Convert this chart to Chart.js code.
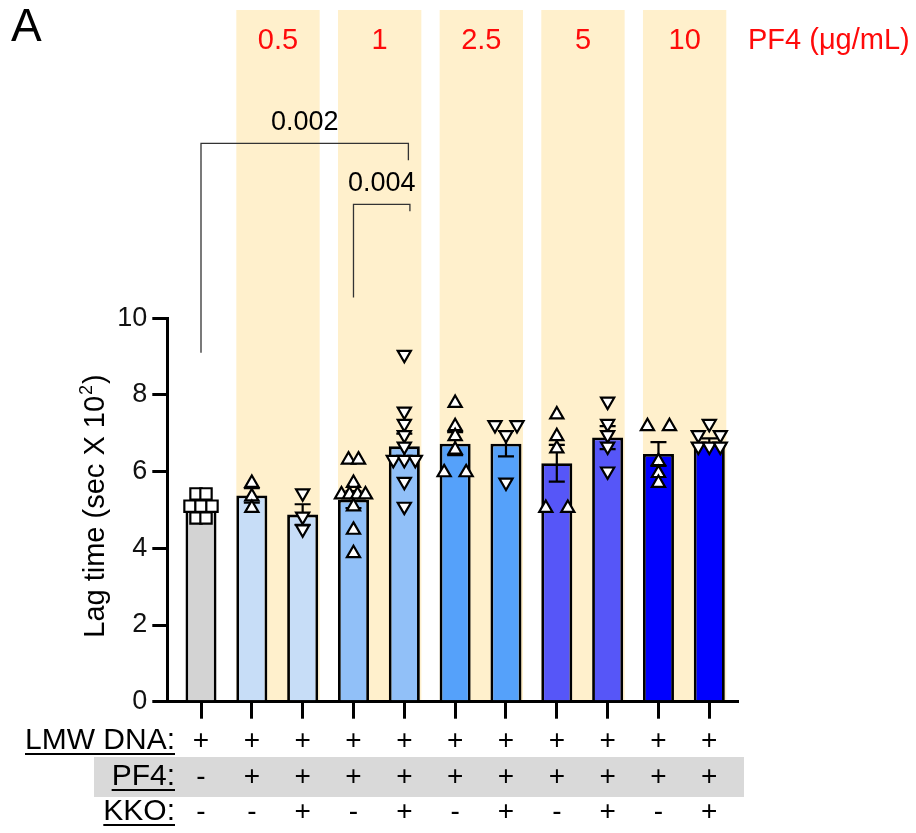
<!DOCTYPE html>
<html><head><meta charset="utf-8">
<script src="https://cdn.jsdelivr.net/npm/chart.js@4"></script>
<style>html,body{margin:0;padding:0;background:#fff;}#wrap{width:916px;height:833px;}</style>
</head><body><div id="wrap"><canvas id="c" width="916" height="833"></canvas></div>
<script>
// ---------------- DATA ----------------
const groupIndex = [0,1,2,3,4,5,6,7,8,9,10];
const rowLMW = ['+','+','+','+','+','+','+','+','+','+','+'];
const rowPF4 = ['-','+','+','+','+','+','+','+','+','+','+'];
const rowKKO = ['-','-','+','-','+','-','+','-','+','-','+'];
const rowLabels = ['LMW DNA:','PF4:','KKO:'];
const pf4Conc = ['0.5','1','2.5','5','10'];
const pf4Unit = 'PF4 (\u03BCg/mL)';
const means = [5.22,5.38,4.88,5.27,6.66,6.73,6.73,6.22,6.89,6.46,6.77];
const sems  = [0.10,0.19,0.27,0.22,0.33,0.30,0.33,0.48,0.30,0.31,0.10];
const pts0  = [5.42,5.42,5.10,5.10,5.10,4.79,4.79];
const pts1  = [5.70,5.35,5.05];
const pts2  = [5.44,4.83,4.50];
const pts3  = [6.31,6.31,5.70,5.40,5.40,5.40,5.40,5.09,4.48,3.87];
const pts4  = [9.05,7.57,7.25,6.96,6.66,6.31,6.31,6.31,5.74,5.09];
const pts5  = [7.79,7.18,6.92,6.57,5.98,5.98];
const pts6  = [7.22,7.22,6.96,5.72];
const pts7  = [7.49,6.92,6.60,5.05,5.05];
const pts8  = [7.83,7.25,6.96,6.66,6.01];
const pts9  = [7.18,7.18,6.27,5.96,5.70];
const pts10 = [7.25,6.96,6.96,6.66,6.66,6.66];
const points = [pts0,pts1,pts2,pts3,pts4,pts5,pts6,pts7,pts8,pts9,pts10];
const yTicks = [0,2,4,6,8,10];
const sigTests = [{from:0,to:4,p:'0.002'},{from:3,to:4,p:'0.004'}];

// ---------------- STYLE ----------------
const FONT = "'Liberation Sans', Arial, sans-serif";
const barColors = ['#d3d3d3','#c7ddf7','#c7ddf7','#91c0f8','#91c0f8','#55a1fa','#55a1fa','#5656f8','#5656f8','#0000fe','#0000fe'];
const bandPairs = [[1,2],[3,4],[5,6],[7,8],[9,10]];
const bandColor = '#fff0cc';
const PX_PER_X = 50.83;
const bracketStyle = [
  {top:14.56, leftBottom:9.1, rightBottom:14.12, xRightShift:0.08},
  {top:12.97, leftBottom:10.54, rightBottom:12.79, xRightShift:0.11}
];

function jitter(vals){
  const n = vals.length, off = new Array(n).fill(0);
  const used = new Array(n).fill(false);
  for (let i=0;i<n;i++){
    if (used[i]) continue;
    const row=[i];
    for (let j=i+1;j<n;j++) if(!used[j] && Math.abs(vals[j]-vals[i])<0.05) row.push(j);
    row.forEach(k=>used[k]=true);
    const m=row.length;
    let s = m===2 ? (n<=6?22:10) : (m>=4?8:11);
    row.forEach((k,idx)=>{ off[k]=((idx-(m-1)/2)*s)/PX_PER_X; });
  }
  return off;
}

const datasets = [];
points.forEach((vals,g)=>{
  const off = jitter(vals);
  const style = g===0 ? 'rect' : 'triangle';
  const rot = (g>0 && rowKKO[g]==='+') ? 180 : 0;
  datasets.push({
    type:'scatter',
    data: vals.map((v,k)=>({x:groupIndex[g]+off[k], y:v})),
    pointStyle: style, rotation: rot,
    radius: g===0?8:7.6, hoverRadius: g===0?8:7.6,
    backgroundColor:'#fff', borderColor:'#000', borderWidth:2.2,
    order:1
  });
});
datasets.push({
  type:'bar',
  data: means.map((v,i)=>({x:groupIndex[i], y:v})),
  backgroundColor: barColors, borderColor:'#000', borderWidth:2.8,
  borderSkipped:'start',
  barPercentage:0.61, categoryPercentage:1,
  order:2
});
const BAR_DS = datasets.length-1;

const decor = {
  id:'decor',
  beforeDraw(chart){
    const ctx = chart.ctx, ca = chart.chartArea;
    const bars = chart.getDatasetMeta(BAR_DS).data;
    ctx.save();
    ctx.fillStyle = bandColor;
    bandPairs.forEach(([a,b],k)=>{
      const l = bars[a].x - bars[a].width/2;
      const r = bars[b].x + bars[b].width/2 + 1.5;
      ctx.fillRect(l, 10, r-l, ca.bottom-1.5-10);
    });
    ctx.fillStyle = '#ff0a0a';
    ctx.font = '29px ' + FONT;
    ctx.textAlign='center'; ctx.textBaseline='middle';
    bandPairs.forEach(([a,b],k)=>{
      const l = bars[a].x - bars[a].width/2;
      const r = bars[b].x + bars[b].width/2 + 1.5;
      ctx.fillText(pf4Conc[k], (l+r)/2, 41);
    });
    ctx.textAlign='left';
    ctx.fillText(pf4Unit, 748, 41);
    ctx.restore();
  },
  afterDatasetDraw(chart,args){
    if (args.index !== BAR_DS) return;
    const ctx = chart.ctx, xs = chart.scales.x, ys = chart.scales.y;
    ctx.save();
    ctx.strokeStyle='#000'; ctx.lineWidth=2.2;
    means.forEach((m,i)=>{
      const x = xs.getPixelForValue(groupIndex[i]);
      const t = ys.getPixelForValue(m+sems[i]), b = ys.getPixelForValue(m-sems[i]);
      ctx.beginPath();
      ctx.moveTo(x,t); ctx.lineTo(x,b);
      ctx.moveTo(x-8,t); ctx.lineTo(x+8,t);
      ctx.moveTo(x-8,b); ctx.lineTo(x+8,b);
      ctx.stroke();
    });
    ctx.restore();
  },
  afterDraw(chart){
    const ctx = chart.ctx, xs = chart.scales.x, ys = chart.scales.y;
    ctx.save();
    ctx.fillStyle='#000'; ctx.font='46px '+FONT; ctx.textBaseline='alphabetic'; ctx.textAlign='left';
    ctx.fillText('A', 11, 41);
    ctx.strokeStyle='#333'; ctx.lineWidth=1.3;
    ctx.font='27px '+FONT; ctx.textAlign='center'; ctx.textBaseline='middle'; ctx.fillStyle='#000';
    sigTests.forEach((s,k)=>{
      const st = bracketStyle[k];
      const xl = xs.getPixelForValue(s.from), xr = xs.getPixelForValue(s.to + st.xRightShift);
      const yt = ys.getPixelForValue(st.top);
      ctx.beginPath();
      ctx.moveTo(xl, ys.getPixelForValue(st.leftBottom));
      ctx.lineTo(xl, yt); ctx.lineTo(xr, yt);
      ctx.lineTo(xr, ys.getPixelForValue(st.rightBottom));
      ctx.stroke();
      ctx.fillText(s.p, (xl+xr)/2, yt-21);
    });
    ctx.save();
    ctx.translate(96, 507); ctx.rotate(-Math.PI/2);
    const mainF = '29px '+FONT, supF = '18px '+FONT;
    const t1 = 'Lag time (sec X 10', t2 = '2', t3 = ')';
    ctx.font = mainF; const w1 = ctx.measureText(t1).width, w3 = ctx.measureText(t3).width;
    ctx.font = supF; const w2 = ctx.measureText(t2).width;
    let x0 = -(w1+w2+w3)/2;
    ctx.textAlign='left'; ctx.textBaseline='middle'; ctx.fillStyle='#000';
    ctx.font=mainF; ctx.fillText(t1, x0, 0);
    ctx.font=supF; ctx.fillText(t2, x0+w1+1, -9);
    ctx.font=mainF; ctx.fillText(t3, x0+w1+w2+2, 0);
    ctx.restore();
    ctx.fillStyle='#d9d9d9';
    ctx.fillRect(94, 757, 650, 40);
    const rows = [rowLMW,rowPF4,rowKKO], ry=[741,777,812];
    ctx.fillStyle='#000';
    rows.forEach((row,r)=>{
      ctx.font='30px '+FONT; ctx.textAlign='right'; ctx.textBaseline='middle';
      ctx.fillText(rowLabels[r], 175, ry[r]);
      const w = ctx.measureText(rowLabels[r]).width;
      ctx.fillRect(175-w, ry[r]+12, w, 2);
      ctx.textAlign='center';
      ctx.font='28px '+FONT;
      row.forEach((sym,i)=>{
        ctx.fillText(sym, xs.getPixelForValue(groupIndex[i]), ry[r]);
      });
    });
    ctx.restore();
  }
};

new Chart(document.getElementById('c'), {
  data:{datasets},
  plugins:[decor],
  options:{
    responsive:false, animation:false, devicePixelRatio:1,
    layout:{padding:{top:318.3, right:179, left:0, bottom:0}},
    plugins:{legend:{display:false}, tooltip:{enabled:false}},
    scales:{
      x:{type:'linear', min:-0.663, max:10.545, offset:false,
        ticks:{stepSize:1, includeBounds:false, display:false},
        grid:{display:true, offset:false, drawOnChartArea:false, drawTicks:true, tickLength:17, lineWidth:3, color:'#000'},
        border:{display:true, width:3, color:'#000'},
        afterFit(s){ s.height = 833-701.7; }
      },
      y:{min:0, max:10,
        afterBuildTicks(s){ s.ticks = yTicks.map(v=>({value:v})); },
        ticks:{font:{size:27, family:FONT}, color:'#111', padding:5},
        grid:{display:true, drawOnChartArea:false, drawTicks:true, tickLength:15, lineWidth:3, color:'#000'},
        border:{display:true, width:3, color:'#000'},
        afterFit(s){ s.width = 167.3; }
      }
    }
  }
});
</script></body></html>
